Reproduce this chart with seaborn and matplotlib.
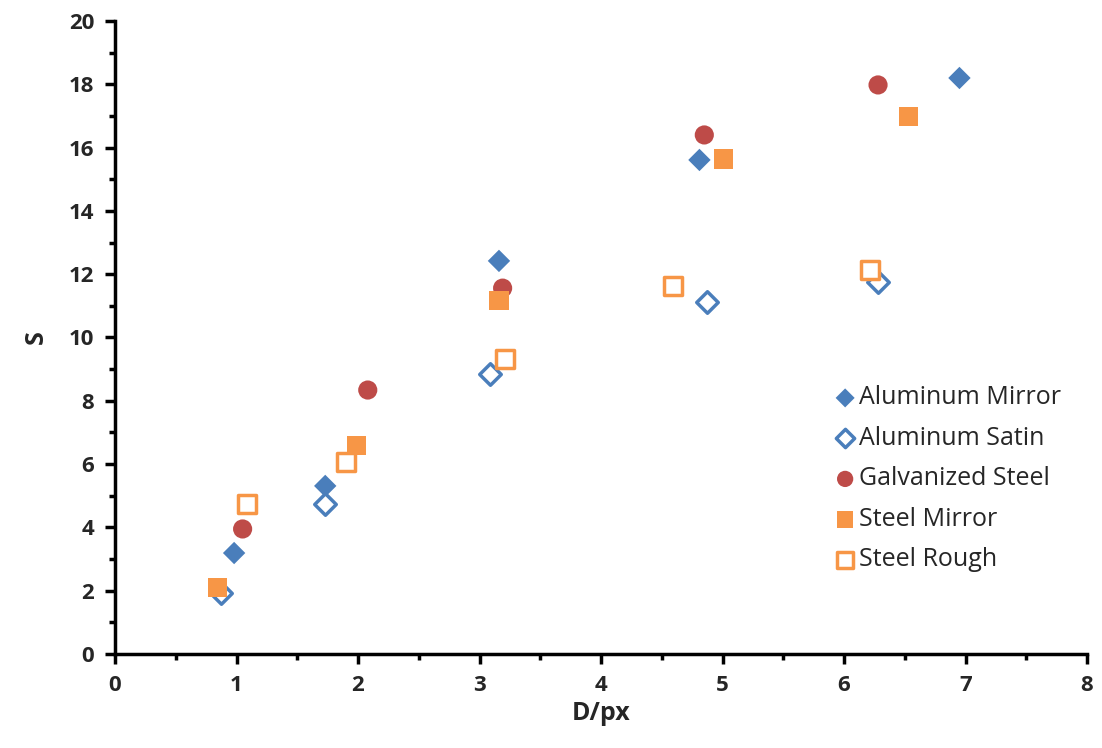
import matplotlib
matplotlib.use("Agg")
import matplotlib.pyplot as plt
from matplotlib.ticker import MultipleLocator
import pandas as pd
import seaborn as sns

series = ["Aluminum Mirror", "Aluminum Satin", "Galvanized Steel", "Steel Mirror", "Steel Rough"]
al_mirror_x = [0.98, 1.73, 3.16, 4.81, 6.95]
al_mirror_y = [3.19, 5.31, 12.42, 15.61, 18.20]
al_satin_x = [0.87, 1.73, 3.09, 4.87, 6.28]
al_satin_y = [1.93, 4.74, 8.85, 11.12, 11.75]
galv_x = [1.05, 2.08, 3.19, 4.85, 6.28]
galv_y = [3.95, 8.34, 11.56, 16.40, 17.98]
st_mirror_x = [0.84, 1.99, 3.16, 5.01, 6.53]
st_mirror_y = [2.09, 6.60, 11.18, 15.64, 16.97]
st_rough_x = [1.09, 1.90, 3.21, 4.59, 6.21]
st_rough_y = [4.74, 6.07, 9.32, 11.63, 12.13]

xs = [al_mirror_x, al_satin_x, galv_x, st_mirror_x, st_rough_x]
ys = [al_mirror_y, al_satin_y, galv_y, st_mirror_y, st_rough_y]

blue = "#4A7EBB"
red = "#BE4B48"
orange = "#F79646"
styles = {
    "Aluminum Mirror": dict(marker="D", color=blue, fill=True, s=130),
    "Aluminum Satin": dict(marker="D", color=blue, fill=False, s=120),
    "Galvanized Steel": dict(marker="o", color=red, fill=True, s=190),
    "Steel Mirror": dict(marker="s", color=orange, fill=True, s=190),
    "Steel Rough": dict(marker="s", color=orange, fill=False, s=170),
}

sns.set_style("white")
plt.rcParams["font.family"] = ["Open Sans", "DejaVu Sans"]

fig = plt.figure(figsize=(11.02, 7.48), dpi=100)
ax = fig.add_axes([0.1044, 0.1257, 0.882, 0.8462])

for name, x, y in zip(series, xs, ys):
    st = styles[name]
    df = pd.DataFrame({"x": x, "y": y})
    if st["fill"]:
        sns.scatterplot(data=df, x="x", y="y", ax=ax, marker=st["marker"], s=st["s"],
                        color=st["color"], edgecolor="none", label=name, zorder=3)
    else:
        sns.scatterplot(data=df, x="x", y="y", ax=ax, marker=st["marker"], s=st["s"],
                        facecolor="white", edgecolor=st["color"], linewidth=2.5,
                        label=name, zorder=3)

ax.set_xlim(0, 8)
ax.set_ylim(0, 20)
ax.xaxis.set_major_locator(MultipleLocator(1))
ax.xaxis.set_minor_locator(MultipleLocator(0.5))
ax.yaxis.set_major_locator(MultipleLocator(2))
ax.yaxis.set_minor_locator(MultipleLocator(1))
ax.tick_params(which="major", direction="out", length=7, width=2.5, color="black",
               labelsize=16, pad=8, bottom=True, left=True)
ax.tick_params(which="minor", direction="out", length=4, width=2.5, color="black",
               bottom=True, left=True)
for lab in ax.get_xticklabels() + ax.get_yticklabels():
    lab.set_fontweight("bold")

for side in ["top", "right"]:
    ax.spines[side].set_visible(False)
for side in ["left", "bottom"]:
    ax.spines[side].set_color("black")
    ax.spines[side].set_linewidth(2.5)

ax.set_xlabel("D/px", fontsize=18, fontweight="bold", labelpad=4)
ax.set_ylabel("S", fontsize=18, fontweight="bold", labelpad=14)

leg = ax.legend(loc="upper left", bbox_to_anchor=(0.728, 0.44), frameon=False,
                fontsize=18, handletextpad=0.05, labelspacing=0.62, borderaxespad=0,
                handlelength=1.0, markerscale=0.85)

fig.savefig("out.png", dpi=100)
